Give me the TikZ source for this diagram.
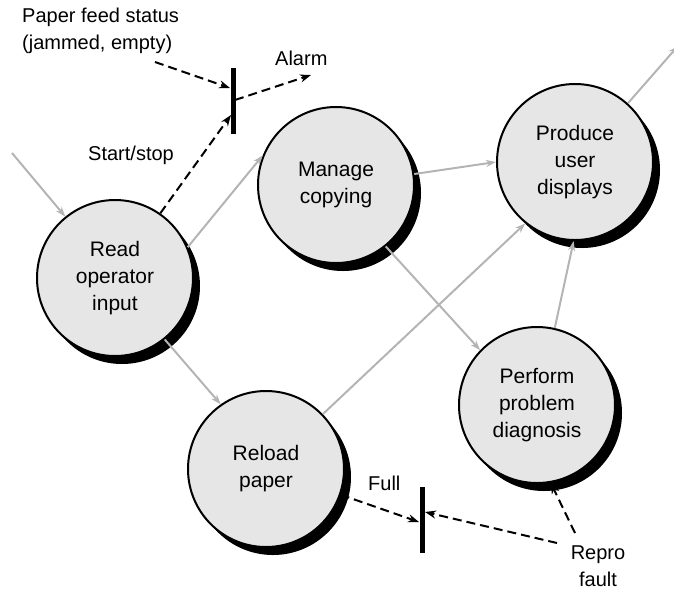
\documentclass[tikz,border=0pt]{standalone}
\usepackage{fontspec}
\setmainfont{Liberation Sans}
\usetikzlibrary{shadows,arrows.meta}
\definecolor{procfill}{HTML}{E6E6E6}
\definecolor{flowgray}{HTML}{B4B4B4}
\begin{document}
\begin{tikzpicture}[x=1pt,y=-1pt,
  proc/.style={circle, draw=black, line width=2pt, fill=procfill, minimum size=156pt, inner sep=0pt,
    align=center, font=\fontsize{21}{27}\selectfont,
    drop shadow={fill=black, opacity=1, shadow xshift=7pt, shadow yshift=-8pt}},
  bar/.style={rectangle, fill=black, minimum width=5pt, minimum height=66pt, inner sep=0pt},
  lbl/.style={font=\fontsize{20}{27}\selectfont, inner sep=0pt},
  flow/.style={draw=flowgray, line width=2pt, -{Stealth[length=10pt,width=7pt]}},
  ctrl/.style={draw=black, line width=2pt, dash pattern=on 9pt off 5pt, -{Stealth[length=11pt,width=8pt]}}
]
\useasboundingbox (0,0) rectangle (674,590);
\clip (0,0) rectangle (674,590);

% processes
\node[proc] (read) at (115,278) {Read\\operator\\input};
\node[proc] (manage) at (336,185) {Manage\\copying};
\node[proc] (produce) at (575,162) {Produce\\user\\displays};
\node[proc] (perform) at (537,405) {Perform\\problem\\diagnosis};
\node[proc] (reload) at (266,469) {Reload\\paper};

% bars
\node[bar] (bar1) at (233,100.5) {};
\node[bar] (bar2) at (422,520) {};

% labels
\node[lbl, anchor=west, align=left] (pfs) at (22,31) {Paper feed status\\(jammed, empty)};
\node[lbl, anchor=west] (alarm) at (275,58) {Alarm};
\node[lbl, anchor=west] (start) at (88,155) {Start/stop};
\node[lbl, anchor=west] (full) at (368,483) {Full};
\node[lbl, align=center] (repro) at (598,566) {Repro\\fault};

% free ends
\coordinate (inA) at (12,153);
\coordinate (outA) at (678,46);
\coordinate (pfsS) at (155,62);
\coordinate (alarmE) at (311,75);
\coordinate (b1a) at (230,88);
\coordinate (b1b) at (235,100);
\coordinate (b1c) at (231,115);
\coordinate (b2a) at (419,522);
\coordinate (b2b) at (425,512);
\coordinate (rS1) at (557,543);
\coordinate (rS2) at (575,533);

% data flows
\draw[flow] (inA) -- (read.129.5);
\draw[flow] (read.23.7) -- (manage.158);
\draw[flow] (read.-51) -- (reload.125);
\draw[flow] (manage.8) -- (produce.180);
\draw[flow] (manage.-51) -- (perform.136);
\draw[flow] (reload.44) -- (produce.231);
\draw[flow] (perform.77) -- (produce.-91);
\draw[flow] (produce.48.5) -- (outA);

% control flows
\draw[ctrl] (pfsS) -- (b1a);
\draw[ctrl] (b1b) -- (alarmE);
\draw[ctrl] (read.55) -- (b1c);
\draw[ctrl] (reload.-19) -- (b2a);
\draw[ctrl] (rS1) -- (b2b);
\draw[ctrl] (rS2) -- (perform.-80);
\end{tikzpicture}
\end{document}
